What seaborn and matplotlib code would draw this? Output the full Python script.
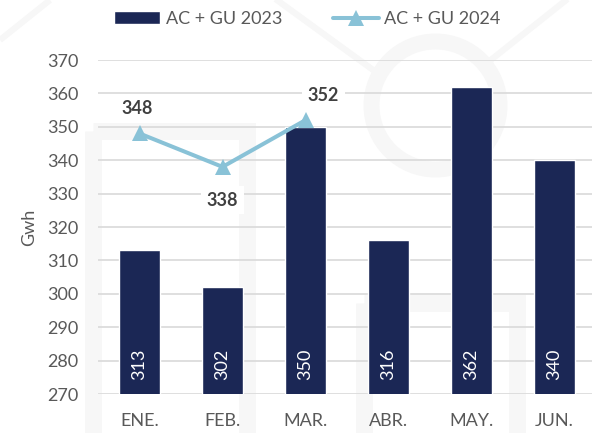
import matplotlib
matplotlib.use("Agg")
import matplotlib.pyplot as plt
from matplotlib.patches import Rectangle, Circle
import seaborn as sns
import pandas as pd
import numpy as np

months = ["ENE.", "FEB.", "MAR.", "ABR.", "MAY.", "JUN."]
gwh_2023 = [313, 302, 350, 316, 362, 340]
gwh_2024 = [348, 338, 352, np.nan, np.nan, np.nan]
label_2023 = "AC + GU 2023"
label_2024 = "AC + GU 2024"

NAVY = "#1b2755"
LIGHT_BLUE = "#89c2d7"
GREY_TXT = "#595959"
GRID = "#d9d9d9"

sns.set_style("white")
plt.rcParams["font.family"] = ["Lato", "DejaVu Sans"]

df = pd.DataFrame({"mes": months, "y2023": gwh_2023, "y2024": gwh_2024})

fig = plt.figure(figsize=(5.92, 4.33), dpi=100)

# faint watermark in the background
bg = fig.add_axes([0, 0, 1, 1], zorder=0)
bg.set_xlim(0, 592)
bg.set_ylim(433, 0)
bg.axis("off")
wm = "#f7f7f7"
bg.add_patch(Rectangle((92.5, 130.5), 154, 330, fill=False, ec=wm, lw=12.2))
bg.add_patch(Rectangle((363.5, 302.5), 153, 200, fill=False, ec=wm, lw=12.2))
bg.add_patch(Circle((435.5, 105.5), 64, fill=False, ec=wm, lw=11.5))
bg.plot([0, 50], [40, 0], color=wm, lw=4.5, solid_capstyle="butt")
bg.plot([270, 380], [-5, 75], color=wm, lw=4.5, solid_capstyle="butt")
bg.plot([570, 487], [-3, 63], color=wm, lw=4.5, solid_capstyle="butt")

ax = fig.add_axes([98 / 592, 1 - 394 / 433, 498 / 592, 334 / 433], zorder=1)
ax.set_facecolor("none")

sns.barplot(data=df, x="mes", y="y2023", color=NAVY, width=0.5,
            saturation=1, ax=ax, label=label_2023, zorder=2)
sns.lineplot(data=df.dropna(), x="mes", y="y2024", color=LIGHT_BLUE, lw=2.9,
             marker="^", markersize=11, markeredgewidth=0, ax=ax,
             label=label_2024, zorder=3, sort=False)

ax.set_ylim(270, 370)
ax.set_xlim(-0.5, 5.5)
ax.set_yticks(np.arange(270, 371, 10))
ax.grid(axis="y", color=GRID, lw=1.2, zorder=0)
ax.set_axisbelow(True)
sns.despine(ax=ax, left=True, bottom=True)
ax.tick_params(axis="both", length=0, labelsize=13, colors=GREY_TXT)
ax.tick_params(axis="x", pad=14)
ax.tick_params(axis="y", pad=14)
ax.set_xlabel("")
ax.set_ylabel("Gwh", fontsize=13, color=GREY_TXT, labelpad=7)

# values inside the bars
for i, v in enumerate(gwh_2023):
    ax.annotate(str(v), (i, 270), xytext=(0, 10), textcoords="offset points",
                rotation=90, ha="center", va="bottom", color="white",
                fontsize=13, zorder=4)

# labels for the 2024 line
offsets = [(-2, 18), (0, -24), (13, 18)]
for i, v in enumerate(gwh_2024):
    if np.isnan(v):
        continue
    dx, dy = offsets[i]
    ax.annotate(f"{v:.0f}", (i, v), xytext=(dx, dy), textcoords="offset points",
                ha="center", va="center", fontsize=13, fontweight="bold",
                color="#404040", zorder=5,
                bbox=dict(boxstyle="square,pad=0.3", fc="white", ec="none"))

handles, labels = ax.get_legend_handles_labels()
order = [labels.index(label_2023), labels.index(label_2024)]
ax.legend_.remove()
fig.legend([handles[k] for k in order], [labels[k] for k in order],
           loc="center", bbox_to_anchor=(0.519, 0.956),
           ncol=2, frameon=False, fontsize=13, labelcolor=GREY_TXT,
           handlelength=2.55, handletextpad=0.3, columnspacing=2.8)

fig.savefig("out.png", dpi=100)
